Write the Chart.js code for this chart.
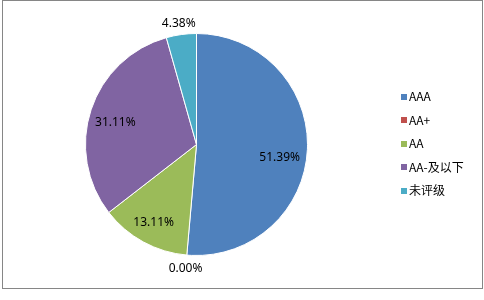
<!DOCTYPE html>
<html>
<head>
<meta charset="utf-8">
<script src="https://cdn.jsdelivr.net/npm/chart.js@4/dist/chart.umd.min.js"></script>
<style>
html,body{margin:0;padding:0;background:#fff;}
#wrap{width:484px;height:300px;position:relative;}
</style>
</head>
<body>
<div id="wrap"><canvas id="c" width="484" height="300"></canvas></div>
<script>
const categories = ["AAA", "AA+", "AA", "AA-及以下", "未评级"];
const shares = [51.39, 0.00, 13.11, 31.11, 4.38];
const colors = ["#4F81BD", "#C0504D", "#9BBB59", "#8064A2", "#4BACC6"];

const frameAndLegend = {
  id: 'frameAndLegend',
  afterDraw(chart) {
    const ctx = chart.ctx;
    ctx.save();
    ctx.strokeStyle = '#868686';
    ctx.lineWidth = 1;
    ctx.strokeRect(2.5, 0.5, 480, 288);
    const labels = chart.data.labels;
    const bg = chart.data.datasets[0].backgroundColor;
    ctx.font = '12px "Noto Sans CJK SC", "Noto Sans", sans-serif';
    ctx.textBaseline = 'middle';
    ctx.textAlign = 'left';
    labels.forEach((lab, i) => {
      const y = 96.5 + i * 23.5;
      ctx.fillStyle = bg[i];
      ctx.fillRect(401, Math.round(y) - 3, 6, 6);
      ctx.fillStyle = '#000';
      ctx.fillText(lab, 409, y);
    });
    ctx.restore();
  }
};

const sliceLabels = {
  id: 'sliceLabels',
  afterDatasetsDraw(chart, args, opts) {
    const ctx = chart.ctx;
    const meta = chart.getDatasetMeta(0);
    const data = chart.data.datasets[0].data;
    ctx.save();
    ctx.font = '12px "Noto Sans", "Liberation Sans", sans-serif';
    ctx.fillStyle = '#000';
    ctx.textAlign = 'center';
    ctx.textBaseline = 'middle';
    meta.data.forEach((arc, i) => {
      const p = arc.getProps(['x', 'y', 'startAngle', 'endAngle', 'outerRadius'], true);
      const mid = (p.startAngle + p.endAngle) / 2;
      const f = opts.radial[i];
      const n = opts.nudge[i];
      const x = p.x + Math.cos(mid) * p.outerRadius * f + n[0];
      const y = p.y + Math.sin(mid) * p.outerRadius * f + n[1];
      ctx.fillText(data[i].toFixed(2) + '%', x, y);
    });
    ctx.restore();
  }
};

new Chart(document.getElementById('c'), {
  type: 'pie',
  data: {
    labels: categories,
    datasets: [{
      data: shares,
      backgroundColor: colors,
      borderColor: '#ffffff',
      borderWidth: 1
    }]
  },
  options: {
    responsive: false,
    animation: false,
    rotation: 0,
    layout: { padding: { left: 85, right: 176, top: 33, bottom: 44 } },
    plugins: {
      legend: { display: false },
      tooltip: { enabled: false },
      sliceLabels: {
        radial: [0.75, 1.125, 0.805, 0.76, 1.1],
        nudge: [[0, 9], [0, 0], [0, 0], [-1, 4], [-1, 0]]
      }
    }
  },
  plugins: [sliceLabels, frameAndLegend]
});
</script>
</body>
</html>
